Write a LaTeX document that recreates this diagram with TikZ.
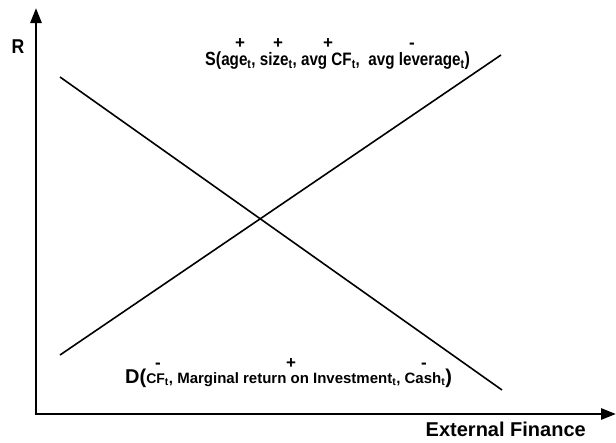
\documentclass[tikz,border=0pt]{standalone}
\usepackage{fontspec}
\usepackage{graphicx}
\setmainfont{Liberation Sans}
\usetikzlibrary{arrows.meta}
\begin{document}
\begin{tikzpicture}[x=1pt,y=-1pt,
  axis/.style={line width=2.8pt,-{Triangle[length=15pt,width=11pt]}},
  curve/.style={line width=1.6pt},
  big/.style={font=\bfseries\fontsize{20}{20}\selectfont,inner sep=0pt,anchor=base west,text height=12pt},
  lbl/.style={font=\bfseries\fontsize{20}{20}\selectfont,inner sep=0pt},
  sgn/.style={font=\bfseries\fontsize{17}{17}\selectfont,inner sep=0pt,text height=8pt,text depth=0pt}]
\useasboundingbox (0,0) rectangle (616,442);
\coordinate (O) at (36,414);
\coordinate (ytop) at (36,8);
\coordinate (xend) at (616,414);
\draw[axis] (O) -- (ytop);
\draw[axis] ([xshift=-1.4pt]O) -- (xend);
\coordinate (s1) at (60,355);
\coordinate (s2) at (501,55);
\coordinate (d1) at (60,77);
\coordinate (d2) at (502,390);
\draw[curve] (s1) -- (s2);
\draw[curve] (d1) -- (d2);
\node[lbl] (R) at (18,47) {\scalebox{0.88}[1]{R}};
\node[lbl,anchor=base east] (xl) at (586,436) {External Finance};
\node[big] (S) at (205,65.5) {\scalebox{0.845}[1]{\fontsize{19}{19}\selectfont\bfseries S(\fontsize{18}{18}\selectfont age\textsubscript{t}, size\textsubscript{t}, avg CF\textsubscript{t},\ \ avg leverage\textsubscript{t}\fontsize{19}{19}\selectfont)}};
\node[sgn] (sa) at (240,44.5) {+};
\node[sgn] (sb) at (278,44.5) {+};
\node[sgn] (sc) at (328,44.5) {+};
\node[sgn] (sd) at (412,44.5) {-};
\node[big] (D) at (125,383) {D(\fontsize{15}{15}\selectfont {\fontsize{14}{14}\selectfont CF}\textsubscript{t}, Marginal return on Investment\textsubscript{t}, Cash\textsubscript{t}\fontsize{20}{20}\selectfont)};
\node[sgn] (da) at (158,364.5) {-};
\node[sgn] (db) at (291,364.5) {+};
\node[sgn] (dc) at (424,364.5) {-};
\end{tikzpicture}
\end{document}
